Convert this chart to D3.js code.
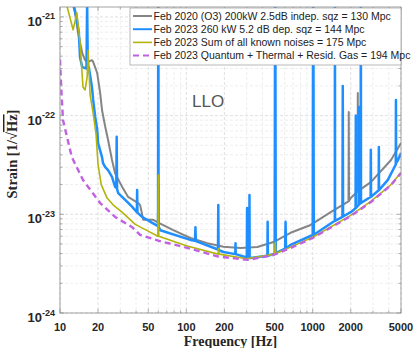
<!DOCTYPE html>
<html>
<head>
<meta charset="utf-8">
<script src="https://cdn.jsdelivr.net/npm/d3@7"></script>
<style>
  body { margin: 0; background: #fff; }
  svg { display: block; }
</style>
</head>
<body>
<div id="chart"></div>
<script>
// axis ticks
const freqTicks = [10, 20, 50, 100, 200, 500, 1000, 2000, 5000];
const strainTicks = [1e-24, 1e-23, 1e-22, 1e-21];

// [frequency Hz, strain 1/sqrt(Hz)], spikes included
const gray2020 = [
  [12.5, 1.4e-21], [13.15, 1.1e-21], [13.9, 6.9e-22], [15.0, 4.3e-22], [15.8, 3.65e-22],
  [16.7, 3.5e-22], [17.9, 3.65e-22], [18.3, 3.5e-22], [19.7, 2.7e-22], [20.8, 1.69e-22],
  [21.5, 1.14e-22], [22.8, 7.7e-23], [24.0, 5.7e-23], [25.8, 3.55e-23], [27.3, 2.6e-23],
  [31.0, 1.9e-23], [34.6, 1.5e-23], [41.6, 1.3e-23], [43.1, 1.24e-23], [45.6, 8.8e-24],
  [54.7, 8.8e-24], [59.5, 8.3e-24], [60, 2.0e-23], [60.5, 8.2e-24], [78.8, 6.9e-24],
  [107.6, 5.75e-24], [146.8, 5.1e-24], [196.7, 4.7e-24], [268, 4.56e-24], [365, 4.67e-24],
  [490, 5.24e-24], [668, 6.5e-24], [964, 7.8e-24], [1389, 1.05e-23], [1920, 1.35e-23],
  [1930, 1.09e-22], [1940, 1.36e-23], [2000, 1.46e-23], [2265, 1.7e-23], [2275, 1.69e-22],
  [2285, 1.72e-23], [2885, 2.12e-23], [4170, 3.55e-23], [5000, 5.27e-23]
];

const blue2023 = [
  [12.9, 1.3e-21], [13.6, 9.3e-22], [14.1, 6.9e-22], [14.4, 3.9e-22], [15.0, 3.1e-22],
  [16.2, 3.0e-22], [16.4, 1.4e-21], [16.6, 3.1e-22], [16.9, 3.1e-22], [17.9, 1.95e-22],
  [18.3, 1.44e-22], [19.0, 9.7e-23], [19.7, 7.2e-23], [20.0, 5.3e-23], [21.5, 3.8e-23],
  [21.9, 3.3e-23], [22.8, 3.0e-23], [24.0, 2.8e-23], [25.8, 2.4e-23], [27.3, 1.9e-23],
  [27.9, 1.85e-23], [28.1, 6.1e-23], [28.3, 1.8e-23], [28.9, 1.64e-23], [32.8, 1.4e-23],
  [37.3, 1.19e-23], [40.6, 1.05e-23], [40.8, 1.76e-23], [41.0, 1.04e-23], [44.8, 9.4e-24],
  [53.7, 8.2e-24], [59.7, 7.6e-24], [60, 1e-20], [60.3, 7.5e-24], [62.2, 6.9e-24],
  [107.6, 5.5e-24], [117, 5.4e-24], [118, 7.4e-24], [119, 5.35e-24], [178, 4.4e-24],
  [179, 1.24e-23], [180, 4.35e-24], [196.7, 4.15e-24], [244, 3.95e-24], [245, 5.1e-24],
  [246, 3.95e-24], [301, 3.65e-24], [302.5, 1.16e-23], [304, 3.65e-24], [315, 3.6e-24],
  [316, 1.57e-23], [317, 3.6e-24], [322, 3.6e-24], [438, 3.8e-24], [440, 8.4e-24],
  [442, 3.8e-24], [490, 3.96e-24], [500, 4.0e-24], [505, 1e-20], [510, 4.05e-24],
  [605, 4.5e-24], [610, 8.4e-24], [615, 4.5e-24], [668, 4.9e-24], [1000, 6.17e-24],
  [1010, 1e-20], [1020, 6.2e-24], [1497, 8.6e-24], [1500, 1e-20], [1503, 8.6e-24],
  [1720, 9.4e-24], [1730, 2.0e-22], [1740, 9.5e-24], [2000, 1.05e-23], [2185, 1.15e-23],
  [2194, 1.0e-22], [2203, 1.16e-23], [2318, 1.25e-23], [2325, 1.22e-22], [2332, 1.26e-23],
  [2398, 1.3e-23], [2405, 1e-20], [2412, 1.3e-23], [2875, 1.5e-23], [2885, 4.5e-23],
  [2895, 1.5e-23], [3330, 1.75e-23], [3340, 4.8e-23], [3350, 1.76e-23], [3936, 2.23e-23],
  [4545, 3.2e-23], [4560, 1.44e-22], [4575, 3.3e-23], [4732, 3.55e-23], [5000, 4.18e-23]
];

const yellow2023 = [
  [10.8, 1.4e-21], [11.4, 1.26e-21], [12.7, 7.4e-22], [13.6, 1.1e-21], [14.4, 5.5e-22],
  [15.2, 1.95e-22], [15.8, 1.82e-22], [16.4, 2.45e-22], [16.7, 4.6e-22], [17.3, 1.62e-22],
  [18.3, 1.06e-22], [19.3, 6.4e-23], [20.0, 3.2e-23], [21.2, 2.0e-23], [23.6, 1.46e-23],
  [26.4, 1.24e-23], [31.0, 1.05e-23], [39.4, 7.9e-24], [49.9, 6.75e-24], [59.5, 6.0e-24],
  [60, 2.5e-23], [60.5, 6.0e-24], [100, 4.8e-24], [178, 3.95e-24], [180, 4.5e-24],
  [182, 3.95e-24], [300, 3.55e-24], [500, 3.95e-24], [505, 5.2e-24], [510, 4.0e-24],
  [668, 4.65e-24], [1000, 5.85e-24], [2000, 9.75e-24], [2885, 1.35e-23], [4170, 2.0e-23],
  [5000, 2.65e-23]
];

const magentaQT = [
  [10, 3.7e-22], [10.25, 1.8e-22], [10.56, 9e-23], [12.4, 3.8e-23], [15.2, 2.23e-23],
  [20.8, 1.3e-23], [27.3, 9.4e-24], [37.3, 7.4e-24], [43, 6.2e-24], [60, 5.4e-24],
  [100, 4.6e-24], [176, 3.75e-24], [305, 3.45e-24], [490, 3.87e-24], [668, 4.56e-24],
  [1000, 5.75e-24], [2000, 9.6e-24], [2885, 1.33e-23], [4170, 1.98e-23], [5000, 2.62e-23]
];

const seriesNames = [
  'Feb 2020 (O3) 200kW 2.5dB indep. sqz = 130 Mpc',
  'Feb 2023 260 kW 5.2 dB dep. sqz = 144 Mpc',
  'Feb 2023 Sum of all known noises = 175 Mpc',
  'Feb 2023 Quantum + Thermal + Resid. Gas = 194 Mpc'
];

const series = [
  { name: seriesNames[0], data: gray2020, color: '#858585', width: 2, dash: null },
  { name: seriesNames[1], data: blue2023, color: '#1f8fff', width: 2.5, dash: null },
  { name: seriesNames[2], data: yellow2023, color: '#b3b40c', width: 1.6, dash: null },
  { name: seriesNames[3], data: magentaQT, color: '#c062e2', width: 2.4, dash: '6,4' }
];

const W = 416, H = 348;
const m = { left: 60, right: 401, top: 7, bottom: 313 };

const svg = d3.select('#chart').append('svg')
  .attr('width', W)
  .attr('height', H);

const x = d3.scaleLog().domain([10, 5000]).range([m.left, m.right]);
const y = d3.scaleLog().domain([1e-24, 1.26e-21]).range([m.bottom, m.top]);

svg.append('clipPath').attr('id', 'plot-clip')
  .append('rect')
  .attr('x', m.left).attr('y', m.top)
  .attr('width', m.right - m.left).attr('height', m.bottom - m.top);

// grid, minor and major
const grid = svg.append('g');
const xMinor = x.ticks();
const yMinor = y.ticks();
const isMajorY = d => strainTicks.some(t => Math.abs(t - d) / t < 1e-6);
grid.selectAll('line.xg')
  .data(xMinor)
  .join('line')
  .attr('x1', d => x(d)).attr('x2', d => x(d))
  .attr('y1', m.top).attr('y2', m.bottom)
  .attr('stroke', d => freqTicks.includes(d) ? '#d2d2d2' : '#e6e6e6')
  .attr('stroke-width', 0.7)
  .attr('stroke-dasharray', '3,2');
grid.selectAll('line.yg')
  .data(yMinor)
  .join('line')
  .attr('y1', d => y(d)).attr('y2', d => y(d))
  .attr('x1', m.left).attr('x2', m.right)
  .attr('stroke', d => isMajorY(d) ? '#d2d2d2' : '#e6e6e6')
  .attr('stroke-width', 0.7)
  .attr('stroke-dasharray', '3,2');

// curves
const line = d3.line()
  .x(d => x(d[0]))
  .y(d => y(d[1]));

const curves = svg.append('g').attr('clip-path', 'url(#plot-clip)');
curves.selectAll('path')
  .data(series)
  .join('path')
  .attr('d', d => line(d.data))
  .attr('fill', 'none')
  .attr('stroke', d => d.color)
  .attr('stroke-width', d => d.width)
  .attr('stroke-dasharray', d => d.dash)
  .attr('stroke-linejoin', 'round');

// frame + inward ticks
const frame = svg.append('g');
frame.append('rect')
  .attr('x', m.left).attr('y', m.top)
  .attr('width', m.right - m.left).attr('height', m.bottom - m.top)
  .attr('fill', 'none')
  .attr('stroke', '#8c8c8c')
  .attr('stroke-width', 0.8);

const tickLen = d => freqTicks.includes(d) ? 4 : 2.5;
for (const [y0, dir] of [[m.bottom, -1], [m.top, 1]]) {
  frame.append('g').selectAll('line')
    .data(xMinor)
    .join('line')
    .attr('x1', d => x(d)).attr('x2', d => x(d))
    .attr('y1', y0).attr('y2', d => y0 + dir * tickLen(d))
    .attr('stroke', '#8c8c8c').attr('stroke-width', 0.7);
}
const yTickLen = d => isMajorY(d) ? 4 : 2.5;
for (const [x0, dir] of [[m.left, 1], [m.right, -1]]) {
  frame.append('g').selectAll('line')
    .data(yMinor)
    .join('line')
    .attr('y1', d => y(d)).attr('y2', d => y(d))
    .attr('x1', x0).attr('x2', d => x0 + dir * yTickLen(d))
    .attr('stroke', '#8c8c8c').attr('stroke-width', 0.7);
}

// tick labels
svg.append('g').selectAll('text')
  .data(freqTicks)
  .join('text')
  .attr('x', d => x(d))
  .attr('y', 330.5)
  .attr('text-anchor', 'middle')
  .attr('font-family', 'Liberation Sans, Arial, sans-serif')
  .attr('font-size', 11)
  .attr('font-weight', 'bold')
  .attr('fill', '#262626')
  .text(d => d);

const yLab = svg.append('g').selectAll('text')
  .data(strainTicks)
  .join('text')
  .attr('x', 55)
  .attr('y', d => y(d) + 9)
  .attr('text-anchor', 'end')
  .attr('font-family', 'Liberation Sans, Arial, sans-serif')
  .attr('font-weight', 'bold')
  .attr('fill', '#262626');
yLab.append('tspan').attr('font-size', 13).text('10');
yLab.append('tspan').attr('font-size', 9).attr('dy', -6.5)
  .text(d => '-' + Math.round(-Math.log10(d)));

// axis titles
svg.append('text')
  .attr('x', (m.left + m.right) / 2)
  .attr('y', 345.5)
  .attr('text-anchor', 'middle')
  .attr('font-family', 'Liberation Serif, Times New Roman, serif')
  .attr('font-size', 14)
  .attr('font-weight', 'bold')
  .attr('fill', '#262626')
  .text('Frequency [Hz]');

const yTitle = svg.append('text')
  .attr('transform', 'translate(17,154) rotate(-90)')
  .attr('text-anchor', 'middle')
  .attr('font-family', 'Liberation Serif, Times New Roman, serif')
  .attr('font-size', 14.5)
  .attr('font-weight', 'bold')
  .attr('fill', '#262626');
yTitle.append('tspan').text('Strain [1/√');
yTitle.append('tspan').style('text-decoration', 'overline').text('Hz');
yTitle.append('tspan').text(']');

svg.append('text')
  .attr('x', 192)
  .attr('y', 107)
  .attr('font-family', 'Liberation Sans, Arial, sans-serif')
  .attr('font-size', 17)
  .attr('fill', '#555')
  .text('LLO');

// legend
const lg = svg.append('g');
lg.append('rect')
  .attr('x', 130).attr('y', 8)
  .attr('width', 271).attr('height', 57)
  .attr('fill', '#fff')
  .attr('stroke', '#9a9a9a')
  .attr('stroke-width', 0.7);
const rows = lg.selectAll('g.row')
  .data(series)
  .join('g')
  .attr('transform', (d, i) => `translate(0,${16 + i * 13.2})`);
rows.append('line')
  .attr('x1', 133).attr('x2', 152)
  .attr('stroke', d => d.color)
  .attr('stroke-width', d => Math.min(d.width, 2))
  .attr('stroke-dasharray', d => d.dash);
rows.append('text')
  .attr('x', 153.5)
  .attr('y', 3.6)
  .attr('font-family', 'Liberation Sans, Arial, sans-serif')
  .attr('font-size', 10.5)
  .attr('fill', '#222')
  .text(d => d.name);
</script>
</body>
</html>
